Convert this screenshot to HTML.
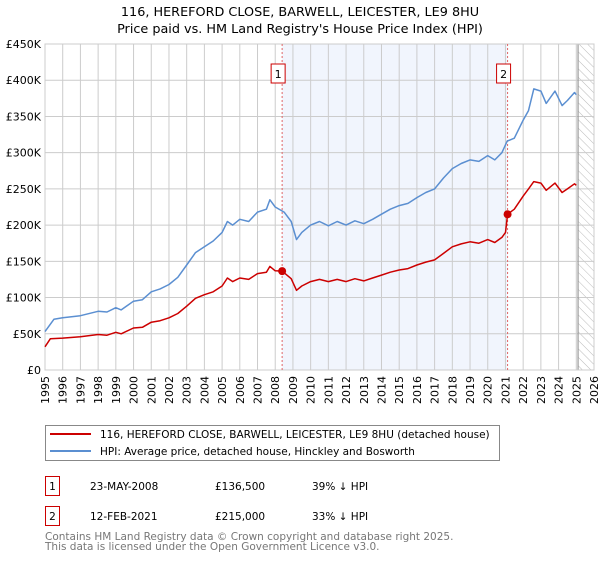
<!DOCTYPE html>
<html><head><meta charset="utf-8"><style>
body{margin:0;background:#fff;font-family:"DejaVu Sans","Liberation Sans",sans-serif;}
svg text{font-family:"DejaVu Sans","Liberation Sans",sans-serif;}
</style></head><body>
<svg id="c" width="600" height="560" xmlns="http://www.w3.org/2000/svg"></svg>
<script>
const years=[1995,1996,1997,1998,1999,2000,2001,2002,2003,2004,2005,2006,2007,2008,2009,2010,2011,2012,2013,2014,2015,2016,2017,2018,2019,2020,2021,2022,2023,2024,2025,2026];
const yTicks=[0,50000,100000,150000,200000,250000,300000,350000,400000,450000];
const yTickLabels=["£0","£50K","£100K","£150K","£200K","£250K","£300K","£350K","£400K","£450K"];
const hpiT=[1995.0,1995.5,1996,1997,1998,1998.5,1999,1999.3,2000,2000.5,2001,2001.5,2002,2002.5,2003,2003.5,2004,2004.5,2005,2005.3,2005.6,2006,2006.5,2007,2007.5,2007.7,2008,2008.5,2008.9,2009.2,2009.5,2010,2010.5,2011,2011.5,2012,2012.5,2013,2013.5,2014,2014.5,2015,2015.5,2016,2016.5,2017,2017.5,2018,2018.5,2019,2019.5,2020,2020.4,2020.8,2021.1,2021.5,2022,2022.3,2022.6,2023,2023.3,2023.8,2024.2,2024.5,2024.9,2025.0];
const hpiV=[53000,70000,72000,75000,81000,80000,86000,83000,95000,97000,108000,112000,118000,128000,145000,162000,170000,178000,190000,205000,200000,208000,205000,218000,222000,235000,225000,218000,205000,180000,190000,200000,205000,199000,205000,200000,206000,202000,208000,215000,222000,227000,230000,238000,245000,250000,265000,278000,285000,290000,288000,296000,290000,300000,316000,320000,345000,358000,388000,385000,368000,385000,365000,372000,383000,380000];
const redT=[1995.0,1995.3,1996,1997,1998,1998.5,1999,1999.3,2000,2000.5,2001,2001.5,2002,2002.5,2003,2003.5,2004,2004.5,2005,2005.3,2005.6,2006,2006.5,2007,2007.5,2007.7,2008,2008.39,2008.9,2009.2,2009.5,2010,2010.5,2011,2011.5,2012,2012.5,2013,2013.5,2014,2014.5,2015,2015.5,2016,2016.5,2017,2017.5,2018,2018.5,2019,2019.5,2020,2020.4,2020.8,2021.0,2021.12,2021.5,2022,2022.3,2022.6,2023,2023.3,2023.8,2024.2,2024.5,2024.9,2025.0];
const redV=[32000,43000,44000,46000,49000,48000,52000,50000,58000,59000,66000,68000,72000,78000,88000,99000,104000,108000,116000,127000,122000,127000,125000,133000,135000,143000,137000,136500,126000,110000,116000,122000,125000,122000,125000,122000,126000,123000,127000,131000,135000,138000,140000,145000,149000,152000,161000,170000,174000,177000,175000,180000,176000,183000,190000,215000,222000,240000,250000,260000,258000,248000,258000,245000,250000,257000,255000];
const sales=[{t:2008.39,v:136500,label:"1"},{t:2021.12,v:215000,label:"2"}];
const X0=45,X1=594,Y0=370,Y1=44;
const xs=t=>X0+(t-1995)/(2026-1995)*(X1-X0);
const ys=v=>Y0-v/450000*(Y0-Y1);
const svg=document.getElementById('c');
const NS="http://www.w3.org/2000/svg";
function el(tag,attrs,parent){const e=document.createElementNS(NS,tag);for(const k in attrs)e.setAttribute(k,attrs[k]);(parent||svg).appendChild(e);return e;}
let t1=el('text',{x:300,y:16,'text-anchor':'middle','font-size':12.8});t1.textContent="116, HEREFORD CLOSE, BARWELL, LEICESTER, LE9 8HU";


let t2=el('text',{x:300,y:33,'text-anchor':'middle','font-size':12.8});t2.textContent="Price paid vs. HM Land Registry's House Price Index (HPI)";


let sh=el('rect',{x:xs(sales[0].t),y:Y1,width:xs(sales[1].t)-xs(sales[0].t),height:Y0-Y1,fill:'#eef3fc',opacity:0.8});


const defs=el('defs',{});
const pat=el('pattern',{id:'h',width:6,height:6,patternUnits:'userSpaceOnUse',patternTransform:'rotate(-45)'},defs);
el('line',{x1:0,y1:0,x2:0,y2:6,stroke:'#bbb','stroke-width':1},pat);
let hr=el('rect',{x:xs(2025.1),y:Y1,width:X1-xs(2025.1),height:Y0-Y1,fill:'url(#h)'});


years.forEach(y=>{el('line',{x1:xs(y),x2:xs(y),y1:Y1,y2:Y0,stroke:'#ccc','stroke-width':1});
 const tx=el('text',{transform:`translate(${xs(y)+4},${Y0+6}) rotate(-90)`,'text-anchor':'end','font-size':11});tx.textContent=y;
 
 });
yTicks.forEach((v,i)=>{el('line',{x1:X0,x2:X1,y1:ys(v),y2:ys(v),stroke:'#ccc','stroke-width':1});
 const tx=el('text',{x:X0-4,y:ys(v)+4,'text-anchor':'end','font-size':11});tx.textContent=yTickLabels[i];
 
 });
el('line',{x1:xs(2025.1),x2:xs(2025.1),y1:Y1,y2:Y0,stroke:'#999','stroke-width':1.2});
el('rect',{x:X0,y:Y1,width:X1-X0,height:Y0-Y1,fill:'none',stroke:'#ccc'});
sales.forEach(s=>{el('line',{x1:xs(s.t),x2:xs(s.t),y1:Y1,y2:Y0,stroke:'#e06666','stroke-dasharray':'2,2','stroke-width':1});
 const b=el('rect',{x:xs(s.t)-11,y:64,width:14,height:19,fill:'#fff',stroke:'#c00'});
 
 
 const tx=el('text',{x:xs(s.t)-4,y:78,'text-anchor':'middle','font-size':11});tx.textContent=s.label;});
function path(T,V,col,name){const d=T.map((t,i)=>(i?'L':'M')+xs(t).toFixed(1)+','+ys(V[i]).toFixed(1)).join('');
 const p=el('path',{d:d,fill:'none',stroke:col,'stroke-width':1.5,'stroke-linejoin':'round'});
 
 }
path(hpiT,hpiV,'#5b8fd1','hpi-line');
path(redT,redV,'#cc0000','price-paid-line');
sales.forEach(s=>{const c=el('circle',{cx:xs(s.t),cy:ys(s.v),r:4,fill:'#cc0000'});
 
 });
const lg=el('g',{});


el('rect',{x:45.5,y:425.5,width:454,height:35,fill:'#fff',stroke:'#888'},lg);
el('line',{x1:50,x2:91,y1:434,y2:434,stroke:'#cc0000','stroke-width':2},lg);
el('line',{x1:50,x2:91,y1:451,y2:451,stroke:'#5b8fd1','stroke-width':2},lg);
let l1=el('text',{x:100,y:438,'font-size':10.5},lg);l1.textContent="116, HEREFORD CLOSE, BARWELL, LEICESTER, LE9 8HU (detached house)";


let l2=el('text',{x:100,y:455,'font-size':10.5},lg);l2.textContent="HPI: Average price, detached house, Hinckley and Bosworth";


const rows=[["1","23-MAY-2008","£136,500","39% ↓ HPI"],["2","12-FEB-2021","£215,000","33% ↓ HPI"]];
rows.forEach((r,i)=>{const y=476+i*30;
 const g=el('g',{});
 
 
 el('rect',{x:45.5,y:y+0.5,width:14,height:19,fill:'#fff',stroke:'#c00'},g);
 const a=el('text',{x:52.5,y:y+14,'text-anchor':'middle','font-size':10.5},g);a.textContent=r[0];
 [90,215,312].forEach((x,j)=>{const t=el('text',{x:x,y:y+14,'font-size':10.5},g);t.textContent=r[j+1];});});
let f1=el('text',{x:45,y:540,'font-size':10.5,fill:'#777'});f1.textContent="Contains HM Land Registry data © Crown copyright and database right 2025.";


let f2=el('text',{x:45,y:550,'font-size':10.5,fill:'#777'});f2.textContent="This data is licensed under the Open Government Licence v3.0.";


</script>
</body></html>
